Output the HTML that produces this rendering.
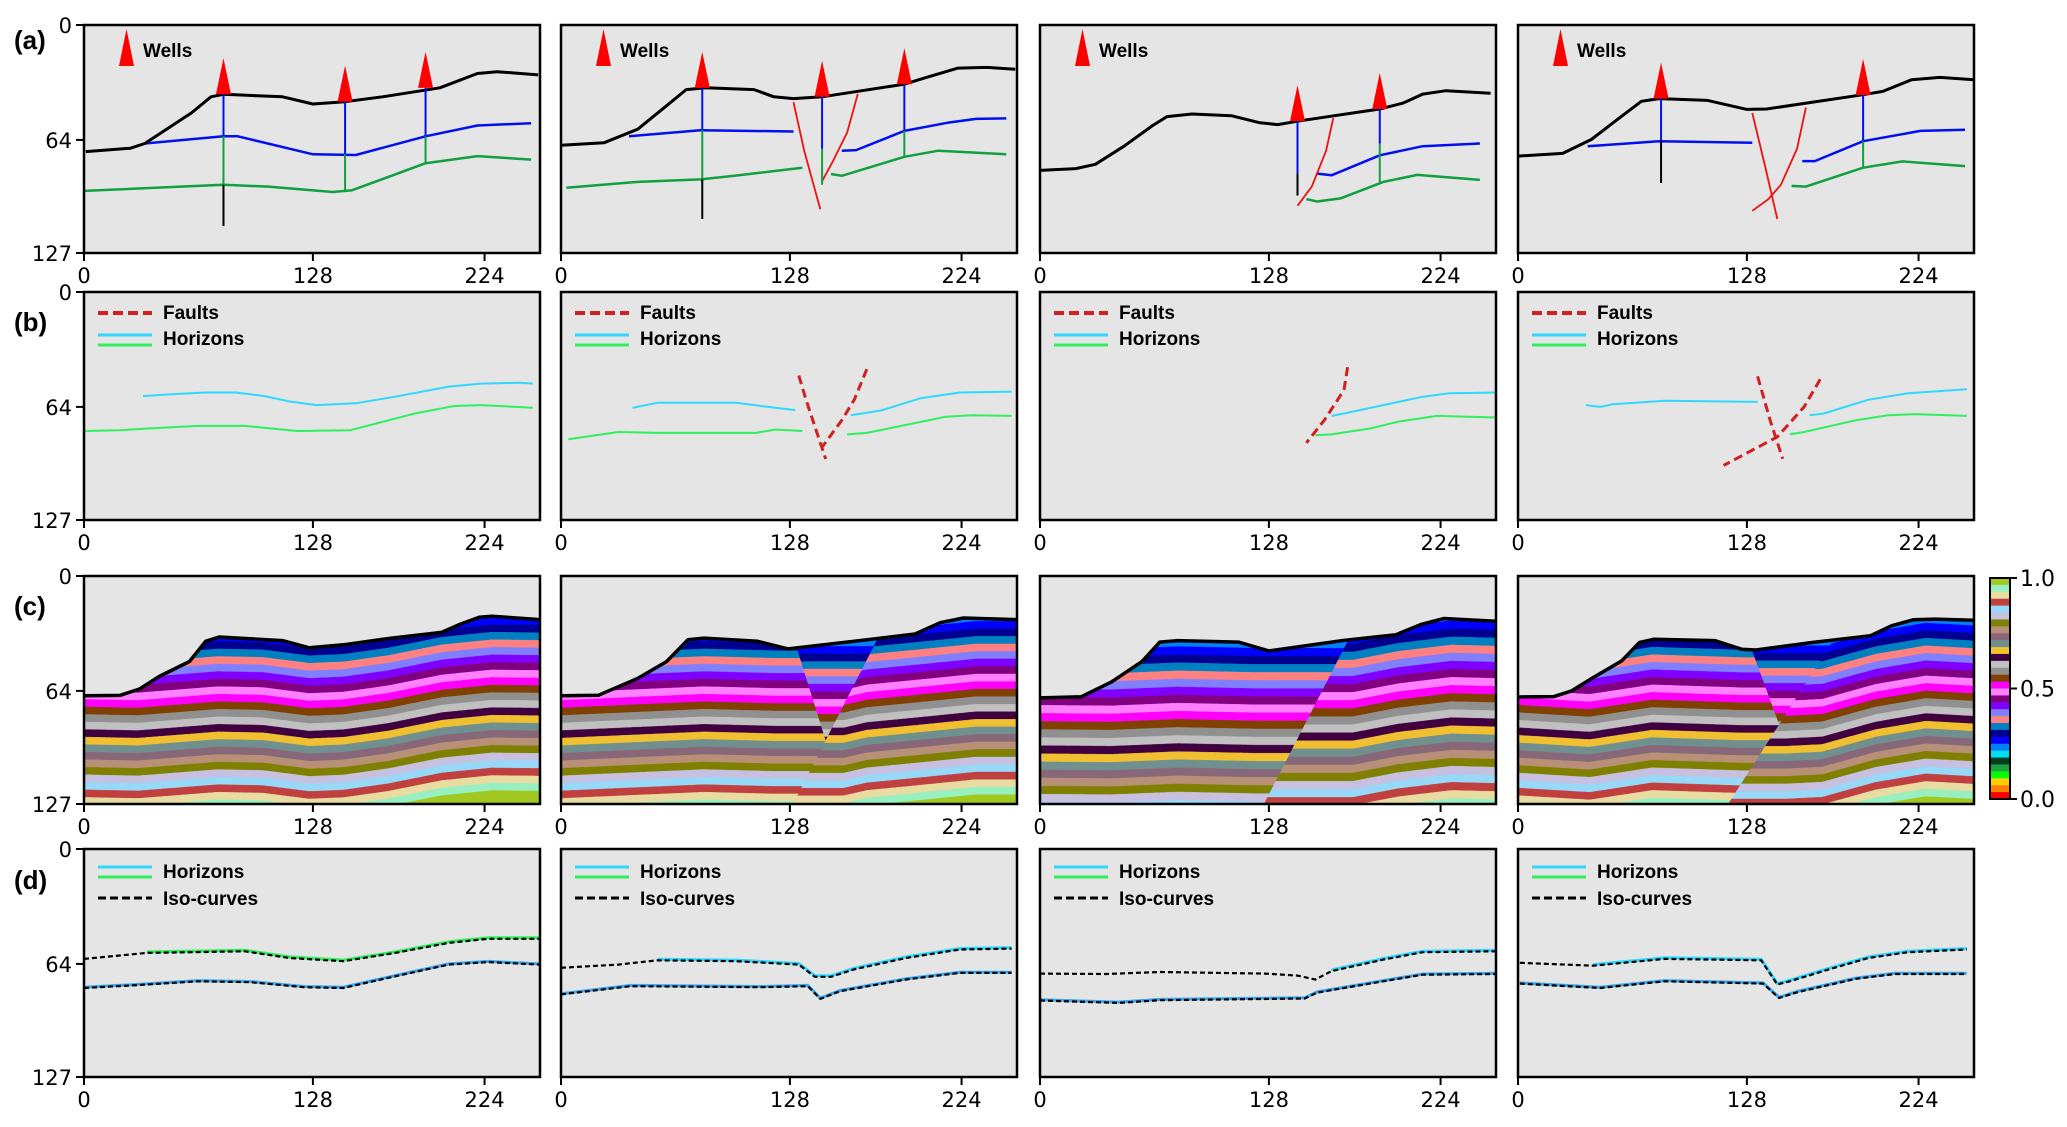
<!DOCTYPE html>
<html><head><meta charset="utf-8">
<style>
html,body{margin:0;padding:0;background:#fff;}
svg{display:block;}
text{font-family:"DejaVu Sans","Liberation Sans",sans-serif;}
.lg{font-family:"Liberation Sans",sans-serif;font-weight:bold;font-size:19px;}
.pl{font-family:"Liberation Sans",sans-serif;font-weight:bold;font-size:26px;}
</style></head>
<body>
<svg id="fig" xmlns="http://www.w3.org/2000/svg" width="2067" height="1127" viewBox="0 0 2067 1127"></svg>
<script>
// ---------- layout ----------
const COLS=[84,561,1040,1518], ROWS=[25,292,576,849], PW=456, PH=228;
const xTicks=[0,128,224], yTicks=[0,64,127];
const XMAX=255, YMAX=127;

// ---------- row (a) data: [x, depth] ----------
const a1Top=[[1,70.5],[26,68.6],[34,66],[60,49],[71,40],[78,38.6],[111,40],[128,44],[146,42.7],[167,40],[199,35],[220,27],[231,26],[254,27.8]];
const a1Blue=[[34,66],[78,62],[86,62],[128,72],[152,72.4],[191,62],[220,56],[250,54.7]];
const a1Green=[[0,92.4],[78,89],[103,90],[139,93],[150,92],[191,77],[220,73],[250,75]];
const a1Wells=[[78,38.6,62,89,112],[146,42.7,72,93,null],[191,35,62,77,null]];
const a1Faults=[];

const a2Top=[[0,67],[24,65.6],[43,58],[59,45],[70,36],[81,35],[108,36],[119,40],[130,41],[146,40],[192,33],[205,29],[222,24],[238,23.6],[254,24.6]];
const a2Blue=[[38,62],[78,58.6],[130,59.3],null,[157,70],[165,69.7],[192,59],[216,54.5],[232,52.3],[249,52]];
const a2Green=[[3,90.6],[43,87.4],[78,86],[97,84],[135,79.5],null,[151,83],[157,84],[192,73.4],[211,70],[249,72]];
const a2Wells=[[79,35,58.6,86,108],[146,40,69,89,null],[192,33,59,73,null]];
const a2Faults=[[[130,43],[136,70],[145,102.6]],[[166,38.4],[160,60],[152,76],[146,87]]];

const a3Top=[[0,81],[20,80],[31,77.6],[47,67.5],[63,56],[71,51],[85,49.6],[107,50.5],[123,54.5],[133,55.5],[144,53.6],[190,46.8],[203,43.5],[214,38.5],[227,36.6],[252,38]];
const a3Blue=[[155,82.8],[163,83.7],[190,72.6],[214,67.5],[246,66]];
const a3Green=[[149,97],[155,98.3],[168,96.6],[192,87.4],[211,83.5],[246,86.3]];
const a3Wells=[[144,53.6,83,null,95],[190,46.8,66,87.5,null]];
const a3Faults=[[[164,51.8],[160,70],[152,90],[144,100.7]]];

const a4Top=[[0,73],[25,71.5],[41,63.8],[58,50.8],[69,42.5],[79,41],[106,42],[128,47],[139,46.8],[193,38.8],[204,37],[220,30.5],[236,29.2],[255,30.5]];
const a4Blue=[[39,67.5],[79,64.7],[131,65.6],null,[159,75.8],[166,75.8],[193,64.7],[225,59],[250,58.4]];
const a4Green=[[153,89.6],[161,90],[193,79.5],[215,76],[250,78.6]];
const a4Wells=[[80,41,64.7,null,88],[193,39,64.7,79.5,null]];
const a4Faults=[[[131,49],[138,78],[145,108]],[[161,46],[156,69],[147,89],[140,97],[131,103.5]]];

// ---------- row (b) data ----------
const b1Cyan=[[33,58],[49,57],[68,56],[85,56],[101,58],[115,61],[130,63],[152,62],[174,58.3],[204,52.7],[222,51],[244,50.5],[251,51]];
const b1Green=[[0,77.4],[20,77],[42,75.7],[64,74.6],[90,74.6],[119,77.4],[149,77],[167,72.3],[185,67.7],[207,63.5],[222,63],[251,64.5]];
const b1Faults=[];
const b2Cyan=[[40,64.5],[54,61.7],[98,61.7],[112,63.5],[131,65.8],null,[162,68.6],[179,66],[201,59.2],[223,56],[252,55.5]];
const b2Green=[[4,82],[32,78],[54,78.5],[109,78.5],[120,76.6],[135,77.4],null,[160,79.3],[171,78.5],[193,74],[215,69.5],[230,68.6],[252,69]];
const b2Faults=[[[133,46.5],[137,60],[142,75],[148,93]],[[171,43],[164,60],[157,71.4],[146,86.4]]];
const b3Cyan=[[163,69],[170,67.7],[192,63],[214,58.3],[229,56.4],[255,56]];
const b3Green=[[154,79.8],[163,79.3],[185,76],[200,72.3],[222,69],[255,69.9]];
const b3Faults=[[[172,41.9],[170,54.6],[159,71.4],[149,84]]];
const b4Cyan=[[38,63],[46,64],[53,62.5],[82,60.6],[134,61.2],null,[163,68.6],[171,67.7],[196,60],[218,56.4],[251,54.2]];
const b4Green=[[152,79.3],[160,78],[189,71.4],[207,68.6],[222,68],[251,69]];
const b4Faults=[[[134,47],[141,71.4],[148,92.9]],[[169,48.6],[160,64],[145,80.7],[115,96.6]]];

// ---------- row (c) data ----------
const layerColors=['#a0c820','#98f0c0','#e8dca0','#c04040','#98d8f8','#c8c0e0','#808000','#b89078','#886878','#709090','#f0c030','#400040','#c0c0c0','#909090','#804000','#ff00ff','#ff80ff','#800080','#8000ff','#8080ff','#ff8080','#0080c0','#000090','#0000ff','#0080ff','#00e0f0','#004020','#20a040','#00ff00','#ffd000','#ff8000','#ff0000'];
const c1Top=[[0,66.7],[20,66.5],[31,63],[42,56],[59,47.6],[68,36.4],[75.5,34],[111,36],[126,40],[145,38.3],[172,34.6],[200,31.4],[210,27],[221,23],[228,22.4],[255,24.3]];
const c1Shape=[[0,72.9],[30,73.5],[75,70],[100,70.5],[126,73.8],[145,73],[170,69.5],[200,63.5],[228,60.7],[255,61]];
const c2Top=[[0,66.7],[21,66.4],[43,57],[59,47.7],[71,35.5],[80,34.6],[110,36.4],[127,40.6],[164,36.4],[198,32.3],[212,26],[225,23.4],[255,24.3]];
const c2ShapeL=[[0,73.5],[43,71.6],[80,70],[120,71],[255,71]];
const c2ShapeR=[[0,72],[158,72],[171,69],[198,66.4],[232,63],[255,63]];
const c2FaultL=[[119.3,0],[148,91.6]];
const c2FaultR=[[195,0],[129.8,127]];
const c3Top=[[0,67.9],[23,67.3],[40,59],[57,47.7],[67,36.8],[77,36],[111,36.8],[128,41.7],[169,36],[199,32.7],[213,27],[226,23.7],[255,25.2]];
const c3ShapeL=[[0,81],[40,81.3],[77,79.8],[120,80.7],[255,80.7]];
const c3ShapeR=[[0,73.8],[175,73.8],[200,69],[230,65.4],[255,66]];
const c3FaultR=[[190.8,0],[125.2,127]];
const c4Top=[[0,67.4],[20,67.2],[30,64],[42,56.6],[58,47.3],[68,37],[76,35.2],[110,36],[125,40.8],[133,41.2],[165,37],[197,33.3],[209,27.7],[221,24.4],[233,24],[255,24.6]];
const c4ShapeL=[[0,71.9],[40,74.3],[75,69],[125,70.6],[255,70.6]];
const c4ShapeR=[[0,78],[150,78],[170,77],[200,68.7],[228,64],[255,65.5]];
const c4FaultL=[[115.7,0],[146,82.7]];
const c4FaultR=[[199.2,0],[117.5,127]];
const grabenOffset=6;
const cbTicks=['0.0','0.5','1.0'];

// ---------- row (d) data ----------
const d1Upper=[[0,61.2],[35,57.9],[90,57],[115,60.7],[145,62.5],[174,57.9],[204,52.3],[226,50],[255,50]];
const d1Lower=[[0,77.4],[27,76],[64,73.7],[93,74.2],[123,77],[145,77.4],[174,70.9],[204,64.4],[226,63],[255,64.4]];
const d2Upper=[[0,66.2],[32,64.4],[54,62],[98,62.5],[133,64.4],[142,71.2],[151,71.2],[164,67],[193,60.7],[223,56],[252,55.5]];
const d2Lower=[[0,81],[39,76.4],[112,77],[138,76.4],[145,83.5],[156,79.2],[193,72.7],[223,69],[252,69]];
const d3Upper=[[0,69.4],[37,69.6],[67,68.5],[126,69.4],[144,70.5],[154,72.7],[163,68],[192,61.6],[214,57.5],[255,57]];
const d3Lower=[[0,84.4],[44,85.7],[67,84.2],[148,83.3],[155,80],[192,73.7],[214,70],[255,69.6]];
const d4Upper=[[1,63.4],[42,65],[82,61.2],[136,62],[145,75.5],[152,73.7],[174,67],[196,60.7],[218,57.5],[251,56]];
const d4Lower=[[1,75],[46,77.4],[82,73.7],[137,75],[146,83],[156,79.8],[189,72.3],[211,69.6],[251,69.6]];

// ---------- helpers ----------
const NS='http://www.w3.org/2000/svg';
const svg=document.getElementById('fig');
function mk(tag,attrs,name,parent,txt){
  const el=document.createElementNS(NS,tag);
  for(const k in attrs) el.setAttribute(k,attrs[k]);
  
  
  if(txt!==undefined) el.textContent=txt;
  (parent||svg).appendChild(el);
  return el;
}
function sx(c,u){return COLS[c]+u/XMAX*PW;}
function sy(r,v){return ROWS[r]+v/YMAX*PH;}
function segs(arr){const out=[];let cur=[];arr.forEach(p=>{if(p===null){if(cur.length)out.push(cur);cur=[];}else cur.push(p);});if(cur.length)out.push(cur);return out;}
function pts(r,c,arr){return arr.map(p=>sx(c,p[0]).toFixed(1)+','+sy(r,p[1]).toFixed(1)).join(' ');}
function line(r,c,arr,style,name,parent){segs(arr).forEach(s=>{mk('polyline',Object.assign({points:pts(r,c,s),fill:'none','stroke-linejoin':'round'},style),name,parent);});}
function interp(arr,x){if(x<=arr[0][0])return arr[0][1];for(let i=1;i<arr.length;i++){if(x<=arr[i][0]){const a=arr[i-1],b=arr[i];return a[1]+(b[1]-a[1])*(x-a[0])/(b[0]-a[0]);}}return arr[arr.length-1][1];}

function axes(r,c){
  const g=mk('g',{},'panel-'+'abcd'[r]+(c+1));
  mk('rect',{x:COLS[c],y:ROWS[r],width:PW,height:PH,fill:'#e5e5e5'},'plot-background',g);
  return g;
}
function frame(r,c,g){
  mk('rect',{x:COLS[c],y:ROWS[r],width:PW,height:PH,fill:'none',stroke:'#000','stroke-width':2.5},'plot-frame',g);
  xTicks.forEach(t=>{
    const x=sx(c,t);
    mk('line',{x1:x,y1:ROWS[r]+PH,x2:x,y2:ROWS[r]+PH+8,stroke:'#000','stroke-width':2},'x-tick',g);
    mk('text',{x:x,y:ROWS[r]+PH+30,'text-anchor':'middle','font-size':21},'x-tick-label',g,String(t));
  });
  if(c===0){
    yTicks.forEach(t=>{
      const y=sy(r,t);
      mk('line',{x1:COLS[c]-8,y1:y,x2:COLS[c],y2:y,stroke:'#000','stroke-width':2},'y-tick',g);
      mk('text',{x:COLS[c]-12,y:y+8,'text-anchor':'end','font-size':21},'y-tick-label',g,String(t));
    });
  }
}

// ---------- row (a) ----------
const rowA=[[a1Top,a1Blue,a1Green,a1Wells,a1Faults],[a2Top,a2Blue,a2Green,a2Wells,a2Faults],[a3Top,a3Blue,a3Green,a3Wells,a3Faults],[a4Top,a4Blue,a4Green,a4Wells,a4Faults]];
rowA.forEach((d,c)=>{
  const g=axes(0,c);
  const [top,blue,green,wells,faults]=d;
  line(0,c,green,{stroke:'#10a040','stroke-width':2.5},'green-horizon',g);
  line(0,c,blue,{stroke:'#0010f0','stroke-width':2.5},'blue-horizon',g);
  line(0,c,top,{stroke:'#000','stroke-width':3},'top-surface',g);
  faults.forEach(f=>line(0,c,f,{stroke:'#f01010','stroke-width':1.8},'fault-line',g));
  wells.forEach(w=>{
    const [wx,t,be,ge,ke]=w;
    const X=sx(c,wx);
    mk('line',{x1:X,y1:sy(0,t),x2:X,y2:sy(0,be),stroke:'#0010f0','stroke-width':2},'well-blue-segment',g);
    let last=be;
    if(ge!==null){mk('line',{x1:X,y1:sy(0,be),x2:X,y2:sy(0,ge),stroke:'#10a040','stroke-width':2},'well-green-segment',g);last=ge;}
    if(ke!==null){mk('line',{x1:X,y1:sy(0,last),x2:X,y2:sy(0,ke),stroke:'#000','stroke-width':2},'well-black-segment',g);}
    const Y=sy(0,t);
    mk('polygon',{points:(X-7.5)+','+Y+' '+(X+7.5)+','+Y+' '+X+','+(Y-36),fill:'#ff0000'},'well-marker',g);
  });
  const L=COLS[c],T=ROWS[0];
  mk('polygon',{points:(L+35)+','+(T+41)+' '+(L+50)+','+(T+41)+' '+(L+42.5)+','+(T+4),fill:'#ff0000'},'legend-wells-marker',g);
  mk('text',{x:L+59,y:T+32,class:'lg'},'legend-wells-label',g,'Wells');
  frame(0,c,g);
});

// ---------- row (b) ----------
const rowB=[[b1Cyan,b1Green,b1Faults],[b2Cyan,b2Green,b2Faults],[b3Cyan,b3Green,b3Faults],[b4Cyan,b4Green,b4Faults]];
rowB.forEach((d,c)=>{
  const g=axes(1,c);
  line(1,c,d[1],{stroke:'#30f060','stroke-width':2},'green-horizon',g);
  line(1,c,d[0],{stroke:'#30d8ff','stroke-width':2},'cyan-horizon',g);
  d[2].forEach(f=>line(1,c,f,{stroke:'#d02020','stroke-width':3,'stroke-dasharray':'9 5'},'fault-dashed',g));
  const L=COLS[c],T=ROWS[1];
  mk('line',{x1:L+14,y1:T+21,x2:L+68,y2:T+21,stroke:'#d02020','stroke-width':4,'stroke-dasharray':'10 5'},'legend-faults-line',g);
  mk('text',{x:L+79,y:T+27,class:'lg'},'legend-faults-label',g,'Faults');
  mk('line',{x1:L+14,y1:T+43,x2:L+68,y2:T+43,stroke:'#30d8ff','stroke-width':3},'legend-horizon-cyan',g);
  mk('line',{x1:L+14,y1:T+53,x2:L+68,y2:T+53,stroke:'#30f060','stroke-width':3},'legend-horizon-green',g);
  mk('text',{x:L+79,y:T+53,class:'lg'},'legend-horizons-label',g,'Horizons');
  frame(1,c,g);
});

// ---------- row (c) ----------
function bands(c,shape,t,offset,parent,name){
  for(let k=-3;k<27;k++){
    const up=[],lo=[];
    for(let x=0;x<=XMAX;x+=1){
      const s=interp(shape,x)+offset;
      up.push([x,s+(k-9)*t]);
      lo.push([x,s+(k-8)*t]);
    }
    const idx=Math.min(31,Math.max(0,8+k));
    const col=layerColors[31-idx];
    const poly=up.concat(lo.reverse());
    mk('polygon',{points:pts(2,c,poly),fill:col,stroke:col,'stroke-width':0.4},name,parent);
  }
}
function clipPoly(id,c,poly){
  const defs=mk('defs',{},'clip-defs');
  const cp=mk('clipPath',{id:id},'clip-path',defs);
  mk('polygon',{points:pts(2,c,poly)},'clip-shape',cp);
}
const rowC=[
 {top:c1Top,L:c1Shape,R:null,FR:null,FL:null,t:4.2},
 {top:c2Top,L:c2ShapeL,R:c2ShapeR,FR:c2FaultR,FL:c2FaultL,t:4.2},
 {top:c3Top,L:c3ShapeL,R:c3ShapeR,FR:c3FaultR,FL:null,t:4.5},
 {top:c4Top,L:c4ShapeL,R:c4ShapeR,FR:c4FaultR,FL:c4FaultL,t:4.2}];
rowC.forEach((d,c)=>{
  const g=axes(2,c);
  const surf=d.top.concat([[XMAX,YMAX],[0,YMAX]]);
  clipPoly('top'+c,c,surf);
  const gt=mk('g',{'clip-path':'url(#top'+c+')'},'strata',g);
  bands(c,d.L,d.t,0,gt,'layer-band');
  if(d.R){
    clipPoly('rb'+c,c,[d.FR[0],[XMAX,0],[XMAX,YMAX],d.FR[1]]);
    const gr=mk('g',{'clip-path':'url(#rb'+c+')'},'right-fault-block',gt);
    bands(c,d.R,d.t,0,gr,'layer-band');
  }
  if(d.FL){
    const [p1,p2]=d.FL,[q1,q2]=d.FR;
    const a1=(p2[0]-p1[0])/(p2[1]-p1[1]), a2=(q2[0]-q1[0])/(q2[1]-q1[1]);
    const yy=(q1[0]-p1[0])/(a1-a2), xx=p1[0]+a1*yy;
    clipPoly('gb'+c,c,[p1,[xx,yy],q1]);
    const gg=mk('g',{'clip-path':'url(#gb'+c+')'},'graben-block',gt);
    bands(c,d.L,d.t,grabenOffset,gg,'layer-band');
  }
  line(2,c,d.top,{stroke:'#000','stroke-width':3.5},'top-surface',g);
  frame(2,c,g);
});
(function(){
  const x=1990,y0=578,y1=799,w=20;
  const g=mk('g',{},'colorbar');
  const n=layerColors.length,h=(y1-y0)/n;
  layerColors.forEach((col,i)=>{mk('rect',{x:x,y:y0+i*h,width:w,height:h+0.6,fill:col},'colorbar-swatch',g);});
  mk('rect',{x:x,y:y0,width:w,height:y1-y0,fill:'none',stroke:'#000','stroke-width':2},'colorbar-frame',g);
  cbTicks.forEach((t,i)=>{
    const y=y1-(y1-y0)*parseFloat(t);
    mk('line',{x1:x+w,y1:y,x2:x+w+7,y2:y,stroke:'#000','stroke-width':2},'colorbar-tick',g);
    mk('text',{x:x+w+10,y:y+8,'font-size':22},'colorbar-tick-label',g,t);
  });
})();

// ---------- row (d) ----------
const rowD=[[d1Upper,d1Lower,'#30f060',35],[d2Upper,d2Lower,'#30d8ff',54],[d3Upper,d3Lower,'#30d8ff',163],[d4Upper,d4Lower,'#30d8ff',40]];
rowD.forEach((d,c)=>{
  const g=axes(3,c);
  const up=d[0].filter(p=>p[0]>=d[3]).map(p=>[p[0],p[1]-0.6]);
  const lo=d[1].map(p=>[p[0],p[1]-0.4]);
  line(3,c,up,{stroke:d[2],'stroke-width':3},'horizon-upper',g);
  line(3,c,lo,{stroke:'#3aa8f0','stroke-width':3},'horizon-lower',g);
  line(3,c,d[0],{stroke:'#000','stroke-width':2.2,'stroke-dasharray':'5 3'},'iso-curve-upper',g);
  line(3,c,d[1],{stroke:'#000','stroke-width':2.2,'stroke-dasharray':'5 3'},'iso-curve-lower',g);
  const L=COLS[c],T=ROWS[3];
  mk('line',{x1:L+14,y1:T+18,x2:L+68,y2:T+18,stroke:'#30d8ff','stroke-width':3},'legend-horizon-cyan',g);
  mk('line',{x1:L+14,y1:T+28,x2:L+68,y2:T+28,stroke:'#30f060','stroke-width':3},'legend-horizon-green',g);
  mk('text',{x:L+79,y:T+29,class:'lg'},'legend-horizons-label',g,'Horizons');
  mk('line',{x1:L+14,y1:T+49,x2:L+68,y2:T+49,stroke:'#000','stroke-width':3,'stroke-dasharray':'8 4'},'legend-iso-line',g);
  mk('text',{x:L+79,y:T+56,class:'lg'},'legend-iso-label',g,'Iso-curves');
  frame(3,c,g);
});

[['(a)',40],['(b)',322],['(c)',606],['(d)',880]].forEach(p=>{
  mk('text',{x:14,y:p[1]+9,class:'pl'},'row-label',svg,p[0]);
});
</script>
</body></html>
